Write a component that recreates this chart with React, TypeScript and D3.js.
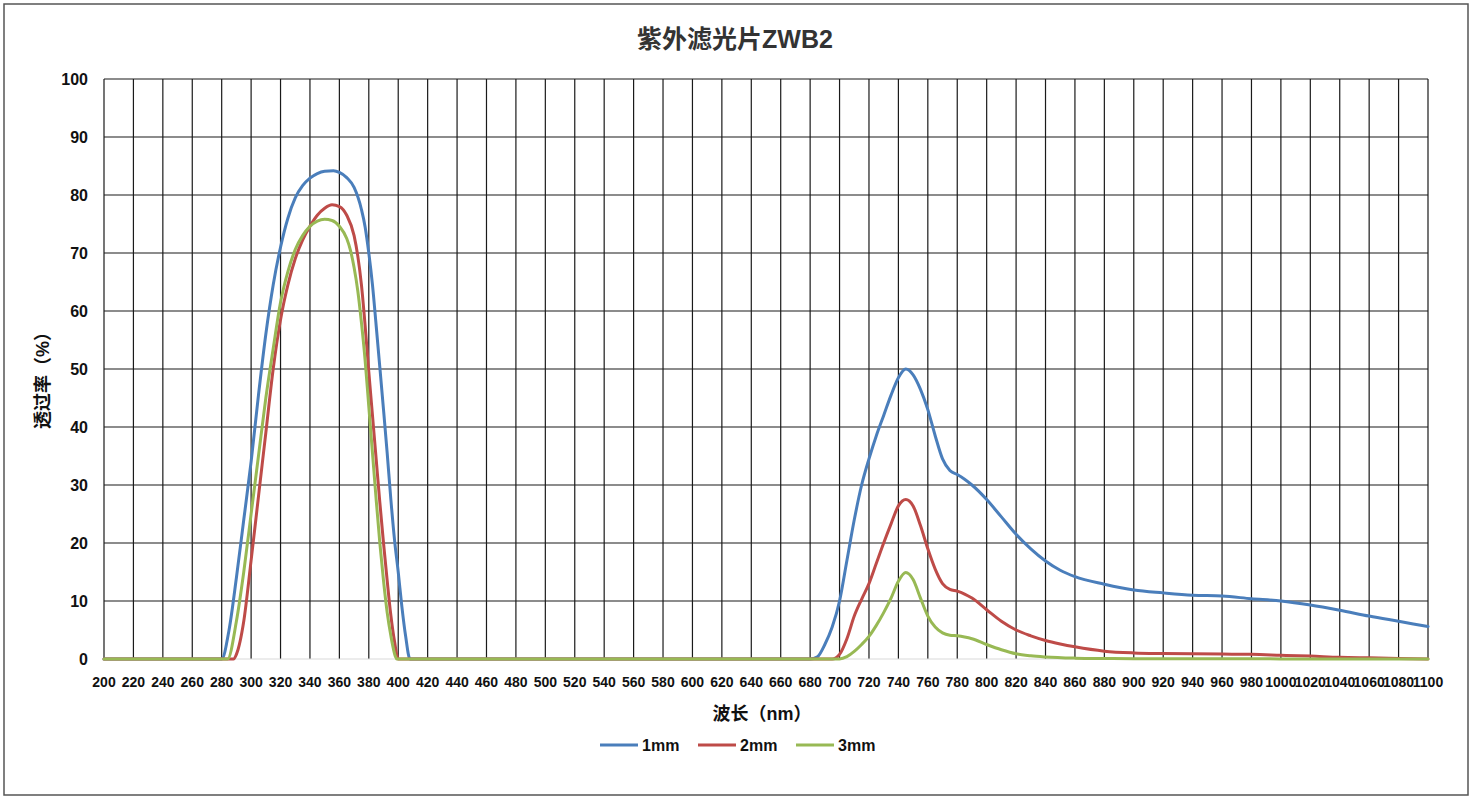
// UV filter ZWB2 transmission chart
import React from 'react';
import * as d3 from 'd3';

const xTicks = d3.range(200, 1101, 20);
const yTicks = d3.range(0, 101, 10);

const seriesNames = ['1mm', '2mm', '3mm'];
const seriesColors = ['#4a7ebb', '#be4b48', '#98b954'];

// 1mm
const nm1 = [200, 280, 285, 290, 295, 300, 305, 310, 315, 320, 325, 330, 335, 340, 345, 350, 356, 360, 365, 370, 375, 377.5, 380, 382.5,
  385, 387.5, 390, 392.5, 395, 397.5, 400, 402.5, 405, 408,
  420, 680, 685, 690, 695, 700, 705, 710, 715, 720, 725, 730, 735, 740, 745, 750, 755, 760, 765, 770, 775, 780, 785, 790, 800, 810, 820, 830,
  840, 850, 860, 880, 900, 920, 940, 960, 980, 1000, 1020, 1040, 1060, 1080, 1100];
const t1 = [0, 0, 5, 14, 24, 34, 45.5, 56, 64.5, 71, 76, 79.5, 81.6, 82.9, 83.7, 84.1, 84.2, 83.9, 83, 81.3, 77.5, 74.5, 70, 64.5,
  57.5, 50.3, 43, 35.5, 27.5, 20.5, 15, 9, 4, 0,
  0, 0, 0.4, 2.5, 5.5, 10, 17, 24, 30, 34.5, 38.5, 42, 45.5, 48.5, 50, 49, 46.5, 43, 38.5, 34.5, 32.5, 31.8, 31, 30, 27.5, 24.5, 21.5, 19,
  16.9, 15.3, 14.2, 12.9, 11.9, 11.4, 11.0, 10.85, 10.4, 10.0, 9.3, 8.4, 7.4, 6.5, 5.6];

// 2mm
const nm2 = [200, 288, 290, 295, 300, 305, 310, 315, 320, 325, 330, 335, 340, 345, 350, 355, 360, 365, 370, 372.5, 375, 377.5, 380, 382.5,
  385, 387.5, 390, 392.5, 395, 397.5, 400,
  420, 680, 695, 700, 705, 710, 715, 720, 725, 730, 735, 740, 745, 750, 755, 760, 765, 770, 775, 780, 785, 790, 800, 810, 820, 830,
  840, 850, 860, 880, 900, 920, 940, 960, 980, 1000, 1020, 1040, 1060, 1080, 1100];
const t2 = [0, 0, 0.8, 6.5, 17, 28, 39, 50, 58.5, 64.5, 69, 72.2, 74.6, 76.5, 77.7, 78.3, 78, 76.5, 73, 69.5, 64.5, 57.5, 49.5, 42,
  34.5, 27, 20, 13.5, 7.5, 3, 0,
  0, 0, 0, 0.8, 3.5, 7.4, 10.3, 13, 16.5, 20, 23.3, 26.4, 27.5, 26.4, 23, 19, 15.5, 13, 12, 11.7, 11.2, 10.5, 8.5, 6.5, 5, 4,
  3.2, 2.6, 2.1, 1.35, 1.05, 0.95, 0.9, 0.85, 0.8, 0.65, 0.5, 0.3, 0.2, 0.1, 0];

// 3mm
const nm3 = [200, 284, 290, 295, 300, 305, 310, 315, 320, 325, 330, 335, 340, 345, 350, 355, 360, 365, 367.5, 370, 372.5, 375, 377.5,
  380, 382.5, 385, 387.5, 390, 392.5, 395, 398, 399,
  420, 680, 700, 705, 710, 715, 720, 725, 730, 735, 740, 745, 750, 755, 760, 765, 770, 775, 780, 785, 790, 800, 810, 820, 830,
  840, 860, 880, 900, 1000, 1100];
const t3 = [0, 0, 6.5, 15, 25, 35, 45, 53.5, 61.5, 66.8, 70.6, 73, 74.6, 75.5, 75.8, 75.6, 74.6, 72.5, 70.5, 67.5, 63.5, 58, 51.5,
  43.5, 35.5, 27.5, 20, 13.5, 8, 4, 0.5, 0,
  0, 0, 0, 0.4, 1.3, 2.5, 3.9, 5.8, 8, 10.5, 13.4, 14.9, 13.7, 10.5, 7.4, 5.5, 4.5, 4.1, 4, 3.8, 3.5, 2.5, 1.6, 0.9, 0.55,
  0.35, 0.15, 0.08, 0.05, 0.02, 0];

const seriesX = [nm1, nm2, nm3];
const seriesY = [t1, t2, t3];

const FONT = '"Liberation Sans", "Noto Sans CJK SC", sans-serif';

export default function App() {
  const width = 1472;
  const height = 800;

  const x = d3.scaleLinear().domain([200, 1100]).range([104, 1428]);
  const y = d3.scaleLinear().domain([0, 100]).range([659, 79]);

  const line = d3.line<[number, number]>()
    .x(d => x(d[0]))
    .y(d => y(d[1]))
    .curve(d3.curveMonotoneX);

  const legendX = [600, 698, 796];

  return (
    <svg
      width={width}
      height={height}
      style={{ position: 'absolute', left: 0, top: 0, background: '#fff' }}
      fontFamily={FONT}
    >
      <rect x={4} y={4} width={1464} height={791} fill="#fff" stroke="#555" strokeWidth={1.5} />

      {/* title */}
      <text x={735} y={48} textAnchor="middle" fontSize={25} fontWeight="bold" fill="#333">
        紫外滤光片ZWB2
      </text>

      {/* grid */}
      <g stroke="#1a1a1a" strokeWidth={1.2}>
        {xTicks.map(t => (
          <line key={'vx' + t} x1={x(t)} x2={x(t)} y1={y(100)} y2={y(0)} />
        ))}
        {yTicks.filter(t => t > 0).map(t => (
          <line key={'hy' + t} x1={x(200)} x2={x(1100)} y1={y(t)} y2={y(t)} />
        ))}
      </g>
      <line x1={x(200)} x2={x(1100)} y1={y(0)} y2={y(0)} stroke="#d9d9d9" strokeWidth={1.2} />

      {/* y ticks */}
      {yTicks.map(t => (
        <text key={'yl' + t} x={88} y={y(t) + 6} textAnchor="end" fontSize={16} fontWeight="bold" fill="#111">
          {t}
        </text>
      ))}

      {/* x ticks */}
      {xTicks.map(t => (
        <text key={'xl' + t} x={x(t)} y={687} textAnchor="middle" fontSize={14} fontWeight="bold" fill="#111">
          {t}
        </text>
      ))}

      {/* axis titles */}
      <text x={762} y={720} textAnchor="middle" fontSize={18} fontWeight="bold" fill="#111">
        波长（nm）
      </text>
      <text
        transform="translate(49,376) rotate(-90)"
        textAnchor="middle"
        fontSize={18}
        fontWeight="bold"
        fill="#111"
      >
        透过率（%）
      </text>

      {/* series */}
      {seriesX.map((xs, i) => {
        const pts = xs.map((v, j) => [v, seriesY[i][j]] as [number, number]);
        return (
          <path
            key={'s' + i}
            d={line(pts) || ''}
            fill="none"
            stroke={seriesColors[i]}
            strokeWidth={3}
            strokeLinejoin="round"
            strokeLinecap="round"
          />
        );
      })}

      {/* legend */}
      {seriesNames.map((name, i) => (
        <g key={'lg' + name}>
          <line x1={legendX[i]} x2={legendX[i] + 38} y1={745} y2={745} stroke={seriesColors[i]} strokeWidth={3} />
          <text x={legendX[i] + 42} y={751} fontSize={16} fontWeight="bold" fill="#111">
            {name}
          </text>
        </g>
      ))}
    </svg>
  );
}
